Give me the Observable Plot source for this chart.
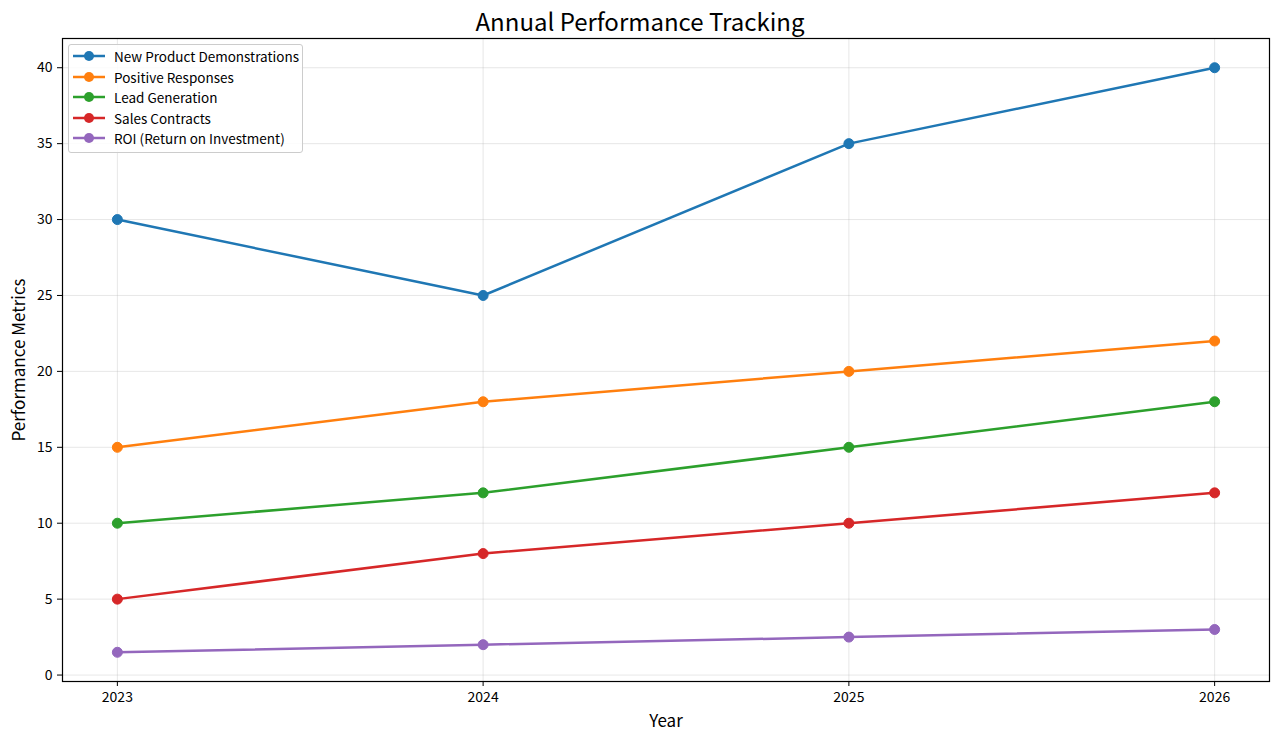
<!DOCTYPE html>
<html>
<head>
<meta charset="utf-8">
<script src="https://cdn.jsdelivr.net/npm/d3@7"></script>
<script src="https://cdn.jsdelivr.net/npm/@observablehq/plot@0.6"></script>
<style>
  html, body { margin: 0; padding: 0; background: #fff; }
  body { width: 1280px; height: 742px; position: relative; overflow: hidden; font-family: "Noto Sans CJK SC", "Noto Sans", sans-serif; }
  #title { height: 30px; text-align: center; font-size: 24px; line-height: 41px; color: #000; }
  #legend { position: absolute; left: 68px; top: 44px; width: 235px; padding: 1px 0 3px 0; background: rgba(255,255,255,0.85); border: 1px solid #ccc; border-radius: 3px; box-sizing: border-box; }
  .item { display: flex; align-items: center; height: 20.5px; font-size: 13.5px; color: #000; }
  .item svg { margin-left: 4px; margin-right: 9px; }
</style>
</head>
<body>
<div id="title">Annual Performance Tracking</div>
<div id="chart"></div>
<div id="legend"></div>
<script>
const years = [2023, 2024, 2025, 2026];
const seriesNames = ["New Product Demonstrations", "Positive Responses", "Lead Generation", "Sales Contracts", "ROI (Return on Investment)"];
const demonstrations = [30, 25, 35, 40];
const positiveResponses = [15, 18, 20, 22];
const leadGeneration = [10, 12, 15, 18];
const salesContracts = [5, 8, 10, 12];
const roi = [1.5, 2, 2.5, 3];
const colors = ["#1f77b4", "#ff7f0e", "#2ca02c", "#d62728", "#9467bd"];
const yTicks = [0, 5, 10, 15, 20, 25, 30, 35, 40];

const allValues = [demonstrations, positiveResponses, leadGeneration, salesContracts, roi];
const data = [];
allValues.forEach((vals, i) => vals.forEach((v, j) => data.push({series: seriesNames[i], year: years[j], value: v})));

const font = '"Noto Sans CJK SC", "Noto Sans", sans-serif';
const chart = Plot.plot({
  width: 1280,
  height: 712,
  marginTop: 8,
  marginLeft: 62,
  marginRight: 11,
  marginBottom: 61,
  style: {fontFamily: font, fontSize: "14px", color: "#000", background: "#fff"},
  x: {domain: [2022.85, 2026.15], ticks: years, tickFormat: d => String(d), label: "Year", labelAnchor: "center", labelArrow: "none", labelOffset: 45, tickSize: 5, tickPadding: 6},
  y: {domain: [-0.425, 41.925], ticks: yTicks, label: "Performance Metrics", labelAnchor: "center", labelArrow: "none", labelOffset: 50, tickSize: 5, tickPadding: 5},
  color: {domain: seriesNames, range: colors},
  marks: [
    Plot.gridX(years, {stroke: "#b0b0b0", strokeOpacity: 0.3, strokeWidth: 1}),
    Plot.gridY(yTicks, {stroke: "#b0b0b0", strokeOpacity: 0.3, strokeWidth: 1}),
    Plot.line(data, {x: "year", y: "value", z: "series", stroke: "series", strokeWidth: 2.5}),
    Plot.dot(data, {x: "year", y: "value", fill: "series", stroke: "series", strokeWidth: 1, r: 5}),
    Plot.frame({stroke: "#000", strokeWidth: 1.2})
  ]
});
chart.querySelectorAll('g[aria-label="x-axis label"] text, g[aria-label="y-axis label"] text').forEach(t => t.setAttribute("font-size", "17"));
document.getElementById("chart").appendChild(chart);

const legend = document.getElementById("legend");
seriesNames.forEach((name, i) => {
  const item = document.createElement("div");
  item.className = "item";
  item.innerHTML = `<svg width="32" height="12"><line x1="0" y1="6" x2="32" y2="6" stroke="${colors[i]}" stroke-width="2.5"/><circle cx="16" cy="6" r="5" fill="${colors[i]}"/></svg><span>${name}</span>`;
  legend.appendChild(item);
});
</script>
</body>
</html>
